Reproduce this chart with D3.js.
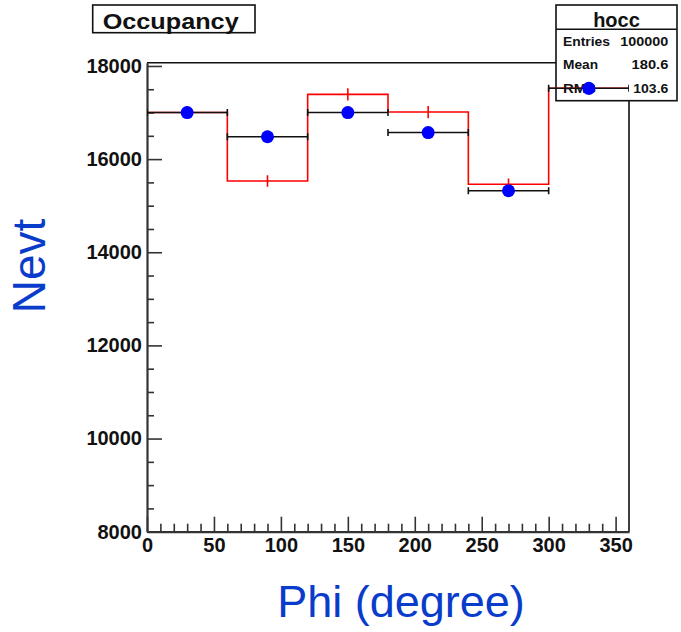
<!DOCTYPE html>
<html>
<head>
<meta charset="utf-8">
<script src="https://cdn.jsdelivr.net/npm/d3@7"></script>
<style>
  html, body { margin: 0; padding: 0; background: #fff; }
  svg { display: block; }
  text { font-family: "Liberation Sans", Arial, Helvetica, sans-serif; }
</style>
</head>
<body>
<svg id="chart" width="681" height="632"></svg>
<script>
// Bin edges of the phi histogram (degrees)
const binEdges = [0, 60, 120, 180, 240, 300, 360];
// hocc: entries per bin (black points with errors)
const hoccCounts = [17000, 16480, 17000, 16570, 15320, 17520];
// Reference histogram drawn as a red step line
const refCounts = [17000, 15530, 17390, 17010, 15460, 17520];
// Axis ticks
const xMajorTicks = [0, 50, 100, 150, 200, 250, 300, 350];
const yMajorTicks = [8000, 10000, 12000, 14000, 16000, 18000];
// Statistics box rows
const statLabels = ["Entries", "Mean", "RMS"];
const statValues = ["100000", "180.6", "103.6"];
const histName = "hocc";
const titleText = "Occupancy";
const xTitle = "Phi (degree)";
const yTitle = "Nevt";

const svg = d3.select("#chart");
const W = 681, H = 632;
svg.append("rect").attr("width", W).attr("height", H).attr("fill", "#fff");

const frame = { left: 147, right: 629, top: 62.7, bottom: 531.7 };
const x = d3.scaleLinear().domain([0, 360]).range([frame.left, frame.right]);
const y = d3.scaleLinear().domain([8000, 18070]).range([frame.bottom, frame.top]);

const axisColor = "#333";

// Frame (top and right edges)
svg.append("path")
  .attr("d", `M${frame.left},${frame.top}H${frame.right}V${frame.bottom}`)
  .attr("fill", "none").attr("stroke", "#111").attr("stroke-width", 1.6);

// Minor ticks
const xMinor = d3.range(0, 360, 10).filter(v => v % 50 !== 0);
const yMinor = d3.range(8000, 18001, 500).filter(v => v % 2000 !== 0);

svg.append("g")
  .attr("transform", `translate(0,${frame.bottom})`)
  .call(d3.axisBottom(x).tickValues(xMinor).tickSizeInner(-8).tickSizeOuter(0).tickFormat(""))
  .call(g => g.select(".domain").remove())
  .call(g => g.selectAll("line").attr("stroke", axisColor).attr("stroke-width", 1.6));

svg.append("g")
  .attr("transform", `translate(${frame.left},0)`)
  .call(d3.axisLeft(y).tickValues(yMinor).tickSizeInner(-7).tickSizeOuter(0).tickFormat(""))
  .call(g => g.select(".domain").remove())
  .call(g => g.selectAll("line").attr("stroke", axisColor).attr("stroke-width", 1.6));

// Major axes
const xAxis = svg.append("g")
  .attr("transform", `translate(0,${frame.bottom})`)
  .call(d3.axisBottom(x).tickValues(xMajorTicks).tickSizeInner(-15).tickSizeOuter(0).tickPadding(6).tickFormat(d3.format("d")));
xAxis.select(".domain").attr("stroke", axisColor).attr("stroke-width", 2.2);
xAxis.selectAll("line").attr("stroke", axisColor).attr("stroke-width", 1.6);
xAxis.selectAll("text")
  .attr("font-size", 20).attr("font-weight", "bold").attr("fill", "#111")
  .attr("font-family", "'Liberation Sans', Arial, Helvetica, sans-serif");

const yAxis = svg.append("g")
  .attr("transform", `translate(${frame.left},0)`)
  .call(d3.axisLeft(y).tickValues(yMajorTicks).tickSizeInner(-15).tickSizeOuter(0).tickPadding(5).tickFormat(d3.format("d")));
yAxis.select(".domain").attr("stroke", axisColor).attr("stroke-width", 2.2);
yAxis.selectAll("line").attr("stroke", axisColor).attr("stroke-width", 1.6);
yAxis.selectAll("text")
  .attr("font-size", 20).attr("font-weight", "bold").attr("fill", "#111")
  .attr("font-family", "'Liberation Sans', Arial, Helvetica, sans-serif");

// Axis titles
svg.append("text")
  .attr("x", 401).attr("y", 617)
  .attr("text-anchor", "middle")
  .attr("font-size", 45).attr("fill", "#0a3ccc")
  .text(xTitle);

svg.append("text")
  .attr("transform", "translate(45,266) rotate(-90)")
  .attr("text-anchor", "middle")
  .attr("font-size", 46).attr("fill", "#0a3ccc")
  .text(yTitle);

// Statistics box
const stat = { x: 556, y: 5, w: 121, h: 95.7, header: 24.3 };
const sb = svg.append("g");
sb.append("rect")
  .attr("x", stat.x).attr("y", stat.y).attr("width", stat.w).attr("height", stat.h)
  .attr("fill", "#fff").attr("stroke", "#111").attr("stroke-width", 1.6);
sb.append("line")
  .attr("x1", stat.x).attr("x2", stat.x + stat.w)
  .attr("y1", stat.y + stat.header).attr("y2", stat.y + stat.header)
  .attr("stroke", "#111").attr("stroke-width", 1.4);
sb.append("text")
  .attr("x", stat.x + stat.w / 2).attr("y", 26.7)
  .attr("text-anchor", "middle").attr("font-size", 20).attr("font-weight", "bold")
  .attr("fill", "#111")
  .text(histName);
const rowBase = [45.7, 69, 93];
const labelWidths = [47, 35, 33];
const valueWidths = [48, 36.7, 35];
statLabels.forEach((lab, i) => {
  sb.append("text")
    .attr("x", 563).attr("y", rowBase[i])
    .attr("font-size", 12.5).attr("font-weight", "bold").attr("fill", "#111")
    .attr("textLength", labelWidths[i]).attr("lengthAdjust", "spacingAndGlyphs")
    .text(lab);
  sb.append("text")
    .attr("x", 668.3 - valueWidths[i]).attr("y", rowBase[i])
    .attr("font-size", 12.5).attr("font-weight", "bold").attr("fill", "#111")
    .attr("textLength", valueWidths[i]).attr("lengthAdjust", "spacingAndGlyphs")
    .text(statValues[i]);
});

// Data, clipped to the frame
svg.append("clipPath").attr("id", "plotClip")
  .append("rect")
  .attr("x", frame.left).attr("y", frame.top)
  .attr("width", frame.right - frame.left).attr("height", frame.bottom - frame.top);

const plot = svg.append("g").attr("clip-path", "url(#plotClip)");

const bins = hoccCounts.map((v, i) => ({
  lo: binEdges[i], hi: binEdges[i + 1], c: (binEdges[i] + binEdges[i + 1]) / 2,
  v: v, ref: refCounts[i]
}));

// Reference histogram: step outline
let stepPath = `M${x(binEdges[0])},${y(refCounts[0])}`;
bins.forEach((b, i) => {
  if (i > 0) stepPath += `V${y(b.ref)}`;
  stepPath += `H${x(b.hi)}`;
});
plot.append("path")
  .attr("d", stepPath)
  .attr("fill", "none").attr("stroke", "#ff0000").attr("stroke-width", 1.6);

// Reference statistical errors
plot.selectAll("line.referr")
  .data(bins).join("line").attr("class", "referr")
  .attr("x1", d => x(d.c)).attr("x2", d => x(d.c))
  .attr("y1", d => y(d.ref - Math.sqrt(d.ref)))
  .attr("y2", d => y(d.ref + Math.sqrt(d.ref)))
  .attr("stroke", "#ff0000").attr("stroke-width", 1.6);

// hocc points: horizontal bin-width bars with end caps
const pts = plot.append("g");
pts.selectAll("line.hbar")
  .data(bins).join("line").attr("class", "hbar")
  .attr("x1", d => x(d.lo)).attr("x2", d => x(d.hi))
  .attr("y1", d => y(d.v)).attr("y2", d => y(d.v))
  .attr("stroke", "#111").attr("stroke-width", 1.6);
const caps = bins.flatMap(b => [{ xv: b.lo, v: b.v }, { xv: b.hi, v: b.v }]);
pts.selectAll("line.cap")
  .data(caps).join("line").attr("class", "cap")
  .attr("x1", d => x(d.xv)).attr("x2", d => x(d.xv))
  .attr("y1", d => y(d.v) - 3.5).attr("y2", d => y(d.v) + 3.5)
  .attr("stroke", "#111").attr("stroke-width", 1.6);
pts.selectAll("line.verr")
  .data(bins).join("line").attr("class", "verr")
  .attr("x1", d => x(d.c)).attr("x2", d => x(d.c))
  .attr("y1", d => y(d.v - Math.sqrt(d.v)))
  .attr("y2", d => y(d.v + Math.sqrt(d.v)))
  .attr("stroke", "#111").attr("stroke-width", 1.6);
pts.selectAll("circle")
  .data(bins).join("circle")
  .attr("cx", d => x(d.c)).attr("cy", d => y(d.v)).attr("r", 6.5)
  .attr("fill", "#0000ff");

// Title box
const tb = svg.append("g");
tb.append("rect")
  .attr("x", 92.7).attr("y", 5).attr("width", 162.3).attr("height", 27.7)
  .attr("fill", "#fff").attr("stroke", "#111").attr("stroke-width", 1.6);
tb.append("text")
  .attr("x", 102.7).attr("y", 29.3)
  .attr("font-size", 22).attr("font-weight", "bold").attr("fill", "#111")
  .attr("textLength", 136).attr("lengthAdjust", "spacingAndGlyphs")
  .text(titleText);
</script>
</body>
</html>
